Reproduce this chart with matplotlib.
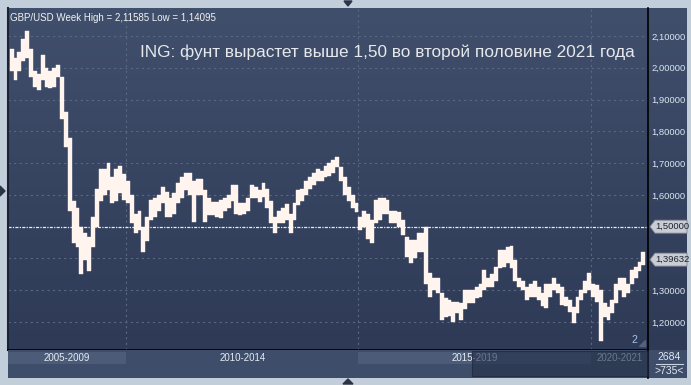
import numpy as np
import pandas as pd
import matplotlib
matplotlib.use("Agg")
import matplotlib.pyplot as plt
from matplotlib.patches import Rectangle, Polygon

plt.rcParams["font.family"] = ["Liberation Sans", "DejaVu Sans"]

W, H = 691, 385

# Monthly GBP/USD high-low ranges, Jul 2007 .. Feb 2021
months = pd.date_range("2007-07-01", "2021-02-01", freq="MS")
lows = [
    1.99, 1.96, 1.99, 2.02, 2.03, 1.97,                                        # 2007 Jul-Dec
    1.94, 1.93, 1.96, 1.94, 1.935, 1.94, 1.97, 1.84, 1.75, 1.55, 1.45, 1.435,  # 2008
    1.35, 1.395, 1.36, 1.435, 1.50, 1.58, 1.60, 1.615, 1.575, 1.58, 1.605, 1.585,  # 2009
    1.575, 1.51, 1.48, 1.49, 1.42, 1.455, 1.52, 1.53, 1.55, 1.575, 1.53, 1.53,  # 2010
    1.54, 1.575, 1.59, 1.615, 1.60, 1.515, 1.60, 1.60, 1.515, 1.537, 1.537, 1.53,  # 2011
    1.527, 1.55, 1.56, 1.58, 1.54, 1.537, 1.54, 1.55, 1.59, 1.59, 1.578, 1.593,  # 2012
    1.56, 1.51, 1.48, 1.51, 1.51, 1.52, 1.48, 1.52, 1.568, 1.58, 1.60, 1.62,   # 2013
    1.63, 1.645, 1.645, 1.655, 1.66, 1.67, 1.687, 1.645, 1.60, 1.58, 1.56, 1.546,  # 2014
    1.49, 1.50, 1.46, 1.45, 1.51, 1.52, 1.54, 1.54, 1.51, 1.51, 1.50, 1.474,   # 2015
    1.404, 1.385, 1.40, 1.42, 1.42, 1.32, 1.28, 1.30, 1.29, 1.206, 1.216, 1.22,  # 2016
    1.20, 1.228, 1.206, 1.24, 1.26, 1.26, 1.275, 1.28, 1.30, 1.31, 1.31, 1.33,  # 2017
    1.37, 1.373, 1.385, 1.37, 1.33, 1.31, 1.30, 1.27, 1.28, 1.28, 1.27, 1.25,  # 2018
    1.244, 1.28, 1.30, 1.29, 1.253, 1.25, 1.23, 1.197, 1.228, 1.27, 1.29, 1.30,  # 2019
    1.28, 1.263, 1.141, 1.216, 1.206, 1.228, 1.26, 1.30, 1.28, 1.29, 1.32, 1.34,  # 2020
    1.36, 1.38,                                                                # 2021
]
highs = [
    2.06, 2.03, 2.05, 2.09, 2.116, 2.06,
    1.99, 1.98, 2.04, 2.00, 1.99, 2.00, 2.01, 1.97, 1.86, 1.78, 1.58, 1.56,
    1.50, 1.48, 1.467, 1.53, 1.62, 1.68, 1.68, 1.70, 1.655, 1.68, 1.69, 1.665,
    1.645, 1.60, 1.54, 1.55, 1.50, 1.53, 1.584, 1.59, 1.60, 1.625, 1.61, 1.59,
    1.605, 1.637, 1.655, 1.67, 1.67, 1.645, 1.65, 1.65, 1.615, 1.59, 1.578, 1.578,
    1.584, 1.59, 1.60, 1.63, 1.63, 1.575, 1.575, 1.59, 1.63, 1.625, 1.615, 1.637,
    1.62, 1.58, 1.53, 1.55, 1.56, 1.57, 1.54, 1.575, 1.615, 1.62, 1.645, 1.655,
    1.668, 1.68, 1.675, 1.69, 1.70, 1.71, 1.72, 1.687, 1.655, 1.625, 1.60, 1.575,
    1.53, 1.55, 1.54, 1.52, 1.584, 1.59, 1.59, 1.584, 1.55, 1.55, 1.546, 1.52,
    1.467, 1.458, 1.458, 1.48, 1.48, 1.50, 1.354, 1.34, 1.34, 1.29, 1.275, 1.27,
    1.263, 1.263, 1.26, 1.30, 1.30, 1.30, 1.31, 1.32, 1.364, 1.34, 1.35, 1.373,
    1.426, 1.426, 1.436, 1.438, 1.395, 1.34, 1.33, 1.31, 1.32, 1.33, 1.31, 1.29,
    1.32, 1.32, 1.338, 1.32, 1.31, 1.28, 1.27, 1.247, 1.28, 1.30, 1.33, 1.354,
    1.32, 1.316, 1.30, 1.26, 1.247, 1.27, 1.32, 1.34, 1.34, 1.32, 1.364, 1.373,
    1.39, 1.42,
]
last_price = 1.39632
target = 1.50
tick_levels = [1.2, 1.3, 1.6, 1.7, 1.8, 1.9, 2.0, 2.1]
grid_levels = [1.2, 1.3, 1.4, 1.6, 1.7, 1.8, 1.9, 2.0, 2.1]
period_edges = [2010, 2015, 2020]
period_labels = ["2005-2009", "2010-2014", "2015-2019", "2020-2021"]
header = "GBP/USD Week High = 2,11585 Low = 1,14095"
title = "ING: фунт вырастет выше 1,50 во второй половине 2021 года"
bars_total, bars_shown = "2684", ">735<"

t = months.year + (months.month - 0.5) / 12
lo = np.array(lows)
hi = np.array(highs)

XMIN, XMAX = 2007.4624, 2021.2258
YMIN, YMAX = 1.1119, 2.1881
PX0, PY0, PX1, PY1 = 8, 8, 648, 350   # plot box in pixels


def axes_px(x0, y0, x1, y1, **kw):
    return fig.add_axes([x0 / W, 1 - y1 / H, (x1 - x0) / W, (y1 - y0) / H], **kw)


def fmt(v):
    return f"{v:.5f}".replace(".", ",")


def ypx(v):
    return PY0 + (YMAX - v) / (YMAX - YMIN) * (PY1 - PY0)


def fig_xy(x, y):
    return x / W, 1 - y / H


fig = plt.figure(figsize=(W / 100, H / 100), dpi=100, facecolor="#c3cedb")

# dark gradient background behind chart + price scale
bg = axes_px(8, 8, 687, 350)
bg.set_axis_off()
grad = np.linspace(0, 1, 256).reshape(-1, 1)
top_c = np.array([0x40, 0x4f, 0x6c]) / 255
bot_c = np.array([0x2e, 0x3a, 0x56]) / 255
img = top_c * (1 - grad[..., None]) + bot_c * grad[..., None]
bg.imshow(img, aspect="auto", extent=[0, 1, 0, 1])
bg.set_xlim(0, 1)
bg.set_ylim(0, 1)

ax = axes_px(PX0, PY0, PX1, PY1)
ax.patch.set_alpha(0)
ax.set_xlim(XMIN, XMAX)
ax.set_ylim(YMIN, YMAX)

for lv in grid_levels:
    ax.axhline(lv, color="#5a6882", lw=0.8, ls=(0, (2, 3)), zorder=1)
for e in period_edges:
    ax.axvline(e, color="#5a6882", lw=0.8, ls=(0, (2, 3)), zorder=1)
ax.axhline(target, color="#e8ebf0", lw=0.9, ls=(0, (2.5, 1, 1, 1)), zorder=2)

ax.bar(t, hi - lo, bottom=lo, width=1.0 / 12, color="#fff4ee", linewidth=0.3,
       edgecolor="#fff4ee", zorder=3)

ax.set_xticks([])
ax.yaxis.tick_right()
ax.set_yticks(tick_levels)
ax.set_yticklabels([fmt(v) for v in tick_levels])
ax.tick_params(axis="y", length=0, pad=2.5, labelsize=6.8, labelcolor="#dce5f0")
ax.spines["top"].set_visible(False)
ax.spines["right"].set_color("black")
ax.spines["right"].set_linewidth(1.2)
ax.spines["bottom"].set_color("black")
ax.spines["bottom"].set_linewidth(1.2)
ax.spines["left"].set_color("#1b2233")
ax.spines["left"].set_linewidth(1.5)

# price callouts (tags) on the right scale
for v in [target, last_price]:
    yc = ypx(v)
    pts = [fig_xy(650, yc), fig_xy(655, yc - 6.5), fig_xy(687, yc - 6.5),
           fig_xy(687, yc + 6.5), fig_xy(655, yc + 6.5)]
    fig.add_artist(Polygon(pts, closed=True, transform=fig.transFigure,
                           fc="#c9cdd3", ec="#7e8692", lw=0.6, zorder=3))
    fx, fy = fig_xy(655, yc)
    fig.text(fx, fy, fmt(v), ha="left", va="center", fontsize=6.8, color="#1c2230", zorder=4)

ax.text(0.003, 0.985, header, transform=ax.transAxes, ha="left", va="top",
        fontsize=7, color="#f2f2f2")
ax.text(0.98, 0.87, title, transform=ax.transAxes, ha="right", va="center",
        fontsize=12.4, color="#e6e8ec")
ax.text(0.979, 0.015, "2", transform=ax.transAxes, ha="center", va="bottom",
        fontsize=7.5, color="#a9c6ec")
ax.add_patch(Polygon([[0.986, 0.012], [0.996, 0.012], [0.996, 0.03]], closed=True,
                     transform=ax.transAxes, color="#56627b", zorder=4))

# bottom period strip
strip = axes_px(8, 350, 648, 378)
strip.set_xlim(XMIN, XMAX)
strip.set_ylim(28, 0)
strip.set_facecolor("#3e4d69")
strip.set_xticks([])
strip.set_yticks([])
for s in strip.spines.values():
    s.set_visible(False)
edges = [XMIN] + period_edges + [XMAX]
for i, lab in enumerate(period_labels):
    a, b = edges[i], edges[i + 1]
    if i in (0, 2):
        strip.add_patch(Rectangle((a, 2), b - a, 12, color="#4c5c78", lw=0))
    strip.text((a + b) / 2, 8, lab, ha="center", va="center", fontsize=7, color="#e4ebf4")

# scrollbar thumb overlay
fig.add_artist(Rectangle((472 / W, 1 - 376 / H), (648 - 472) / W, 25 / H,
                         transform=fig.transFigure, fc="#24304a", alpha=0.62, lw=0.8,
                         ec="#1a2236", zorder=2))

# bottom-right counter box
rb = axes_px(648, 350, 687, 378)
rb.set_xlim(0, 39)
rb.set_ylim(28, 0)
rb.set_facecolor("#3e4d69")
rb.set_xticks([])
rb.set_yticks([])
for s in rb.spines.values():
    s.set_visible(False)
rb.spines["left"].set_visible(True)
rb.spines["left"].set_color("black")
rb.spines["left"].set_linewidth(1.2)
rb.text(21, 7, bars_total, ha="center", va="center", fontsize=7.5, color="#dfe7f2")
rb.plot([8, 35], [14, 14], color="#c9d4e3", lw=0.8)
rb.text(21, 21, bars_shown, ha="center", va="center", fontsize=7.5, color="#dfe7f2")

# frame arrows
tri_c = "#2b3447"
fig.add_artist(Polygon([fig_xy(344, 1), fig_xy(352, 1), fig_xy(348, 6)],
                       closed=True, transform=fig.transFigure, color=tri_c))
fig.add_artist(Polygon([fig_xy(343, 384), fig_xy(353, 384), fig_xy(348, 379)],
                       closed=True, transform=fig.transFigure, color=tri_c))
fig.add_artist(Polygon([fig_xy(0, 186), fig_xy(0, 196), fig_xy(5, 191)],
                       closed=True, transform=fig.transFigure, color=tri_c))

fig.savefig("out.png", dpi=100, facecolor=fig.get_facecolor())
